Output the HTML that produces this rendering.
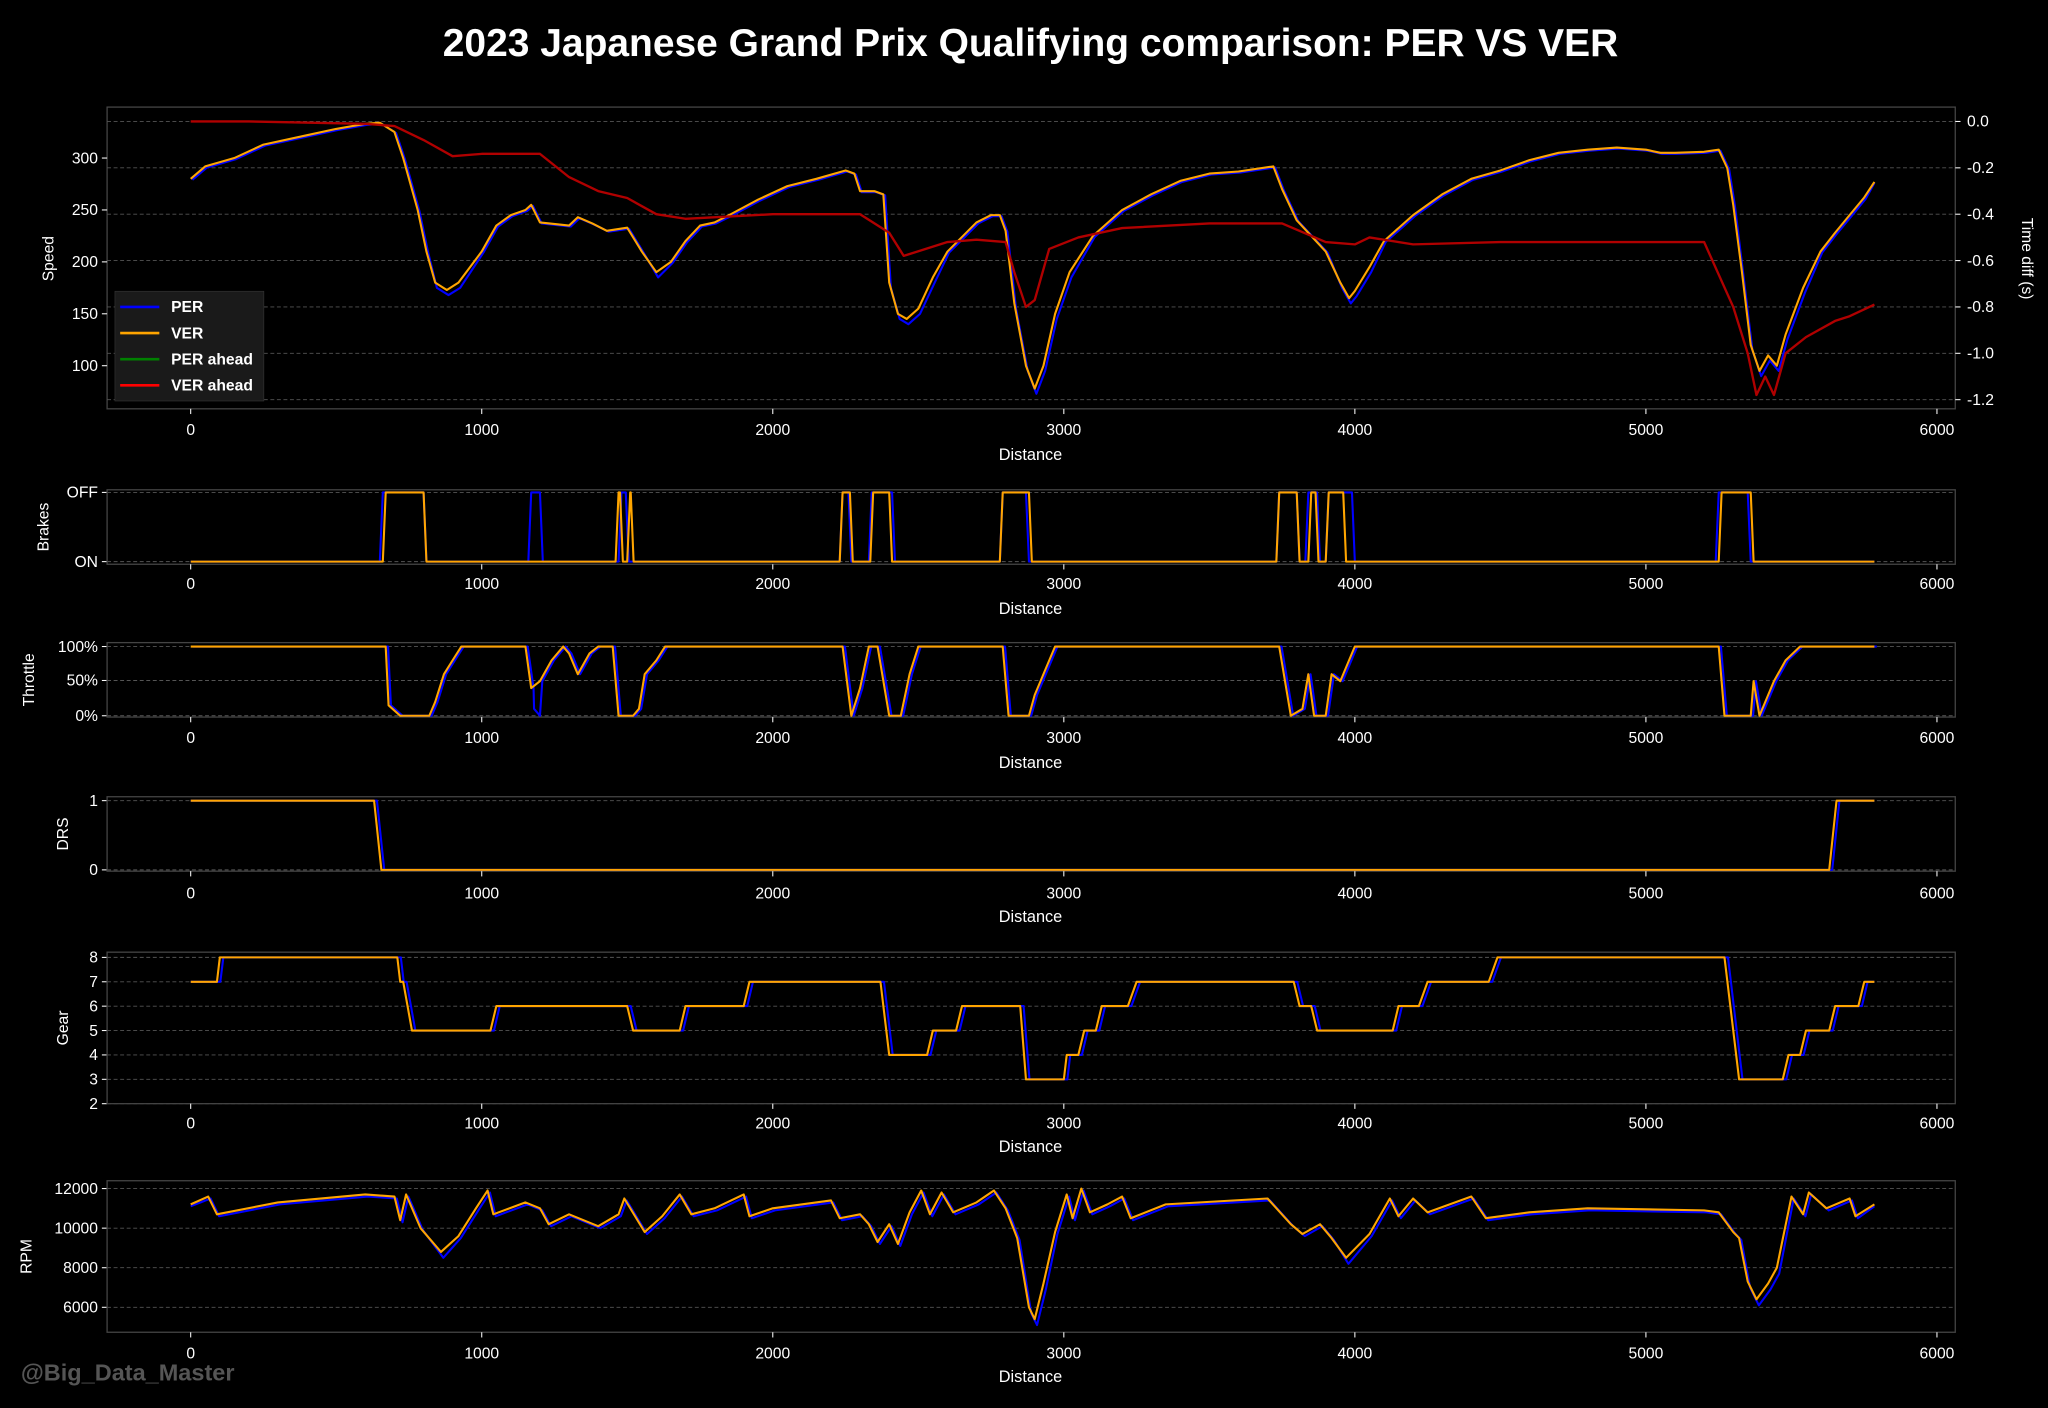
<!DOCTYPE html><html><head><meta charset="utf-8"><style>
html,body{margin:0;padding:0;background:#000;}
svg{display:block}
text{font-family:"Liberation Sans",sans-serif;fill:#fff}
</style></head><body>
<svg id="s" width="2048" height="1408" viewBox="0 0 1568 1078" xmlns="http://www.w3.org/2000/svg">
<rect width="1568" height="1078" fill="#000"/>
<text x="789" y="43" font-size="29.5" text-anchor="middle" font-weight="bold" textLength="900" lengthAdjust="spacingAndGlyphs">2023 Japanese Grand Prix Qualifying comparison: PER VS VER</text>
<text x="16" y="1057" font-size="18" font-weight="bold" style="fill:#555">@Big_Data_Master</text>
</svg>
<script>
const S=document.getElementById('s');const NS='http://www.w3.org/2000/svg';
function el(t,a,txt){const e=document.createElementNS(NS,t);for(const k in a)e.setAttribute(k,a[k]);if(txt!==undefined)e.textContent=txt;S.appendChild(e);return e;}
const X=d=>146+d*0.22283;
function panel(y0,y1,ticks,fy,label,tickY,distY){
 ticks.forEach(t=>{el('line',{x1:82,x2:1497,y1:t[1],y2:t[1],stroke:'#555','stroke-dasharray':'3,2','stroke-width':0.7});
  el('line',{x1:78,x2:82,y1:t[1],y2:t[1],stroke:'#fff','stroke-width':0.8});
  el('text',{x:75,y:t[1]+4,'font-size':12,'text-anchor':'end'},t[0]);});
 el('rect',{x:82,y:y0,width:1415,height:y1-y0,fill:'none',stroke:'#444','stroke-width':1});
 for(let d=0;d<=6000;d+=1000){el('line',{x1:X(d),x2:X(d),y1:y1,y2:y1+4,stroke:'#fff','stroke-width':0.8});
  el('text',{x:X(d),y:tickY,'font-size':12,'text-anchor':'middle'},d);}
 el('text',{x:789,y:distY,'font-size':12.5,'text-anchor':'middle'},'Distance');
 const cy=(y0+y1)/2;el('text',{x:fy,y:cy,'font-size':12,'text-anchor':'middle',transform:`rotate(-90 ${fy} ${cy})`},label);
}
function line(pts,fx,fy,col,w){el('polyline',{points:pts.map(p=>X(p[0]).toFixed(1)+','+fy(p[1]).toFixed(1)).join(' '),fill:'none',stroke:col,'stroke-width':w||1.6,'stroke-linejoin':'round'});}
const sp=[[0,280],[50,292],[150,300],[250,313],[400,322],[500,328],[600,333],[650,334],[700,325],[730,300],[780,250],[810,210],[840,180],[880,173],[920,180],[1000,210],[1050,235],[1100,245],[1150,250],[1170,255],[1200,238],[1300,235],[1330,243],[1380,237],[1430,230],[1500,233],[1550,210],[1600,190],[1650,200],[1700,220],[1750,235],[1800,238],[1850,245],[1950,260],[2050,273],[2150,280],[2250,288],[2280,285],[2300,268],[2350,268],[2380,265],[2400,180],[2430,150],[2460,145],[2500,155],[2550,185],[2600,210],[2700,238],[2750,245],[2780,245],[2800,230],[2830,160],[2870,100],[2900,78],[2930,100],[2970,150],[3020,190],[3100,225],[3200,250],[3300,265],[3400,278],[3500,285],[3600,287],[3720,292],[3750,270],[3800,240],[3850,225],[3900,210],[3950,180],[3980,165],[4000,172],[4050,195],[4100,220],[4200,245],[4300,265],[4400,280],[4500,288],[4600,298],[4700,305],[4800,308],[4900,310],[5000,308],[5050,305],[5100,305],[5200,306],[5250,308],[5280,290],[5300,255],[5330,190],[5360,120],[5390,95],[5420,110],[5450,100],[5480,130],[5540,175],[5600,210],[5650,228],[5700,245],[5750,262],[5785,277]];
const td=[[0,0],[200,0],[600,-0.01],[700,-0.02],[800,-0.08],[900,-0.15],[1000,-0.14],[1200,-0.14],[1300,-0.24],[1400,-0.3],[1500,-0.33],[1600,-0.4],[1700,-0.42],[2000,-0.4],[2300,-0.4],[2400,-0.48],[2450,-0.58],[2500,-0.56],[2600,-0.52],[2700,-0.51],[2800,-0.52],[2830,-0.65],[2870,-0.8],[2900,-0.77],[2950,-0.55],[3050,-0.5],[3200,-0.46],[3500,-0.44],[3750,-0.44],[3900,-0.52],[4000,-0.53],[4050,-0.5],[4200,-0.53],[4500,-0.52],[5200,-0.52],[5300,-0.8],[5350,-1.0],[5380,-1.18],[5410,-1.1],[5440,-1.18],[5480,-1.0],[5550,-0.93],[5650,-0.86],[5700,-0.84],[5785,-0.79]];
const yS=v=>121+(300-v)*0.795, yT=v=>93-v/0.2*35.5;
el('rect',{x:82,y:82,width:1415,height:231,fill:'none',stroke:'#444'});
[0,-0.2,-0.4,-0.6,-0.8,-1.0,-1.2].forEach(v=>{const y=yT(v);el('line',{x1:82,x2:1497,y1:y,y2:y,stroke:'#555','stroke-dasharray':'3,2','stroke-width':0.7});
 el('line',{x1:1497,x2:1501,y1:y,y2:y,stroke:'#fff','stroke-width':0.8});el('text',{x:1506,y:y+4,'font-size':12},v.toFixed(1));});
[100,150,200,250,300].forEach(v=>{const y=yS(v);el('line',{x1:78,x2:82,y1:y,y2:y,stroke:'#fff','stroke-width':0.8});el('text',{x:75,y:y+4,'font-size':12,'text-anchor':'end'},v);});
for(let d=0;d<=6000;d+=1000){el('line',{x1:X(d),x2:X(d),y1:313,y2:317,stroke:'#fff','stroke-width':0.8});el('text',{x:X(d),y:333,'font-size':12,'text-anchor':'middle'},d);}
el('text',{x:789,y:352,'font-size':12.5,'text-anchor':'middle'},'Distance');
el('text',{x:41,y:198,'font-size':12,'text-anchor':'middle',transform:'rotate(-90 41 198)'},'Speed');
el('text',{x:1548,y:198,'font-size':12,'text-anchor':'middle',transform:'rotate(90 1548 198)'},'Time diff (s)');
const spP=sp.map(p=>[p[0]+6,p[1]<200?p[1]-5:p[1]-1]);spP[spP.length-1][0]=5785;
line(spP,0,yS,'#0000ff');line(sp,0,yS,'#ffa500');line(td,0,yT,'#b00000',1.8);
el('rect',{x:88,y:223,width:114,height:84,fill:'#1a1a1a',stroke:'#333','stroke-width':0.5});
[['PER','#0000ff'],['VER','#ffa500'],['PER ahead','#008000'],['VER ahead','#ff0000']].forEach((l,i)=>{const y=235+i*20;
 el('line',{x1:92,x2:122,y1:y,y2:y,stroke:l[1],'stroke-width':2});el('text',{x:131,y:y+4,'font-size':12,'font-weight':'bold'},l[0]);});
panel(375,432,[['OFF',377],['ON',430]],37,'Brakes',451,470);
const yB=v=>430-v*53;
function sq(segs,end,base){const r=[[0,base]];segs.forEach(s=>{r.push([s[0]-10,base]);r.push([s[0],s[2]]);r.push([s[1],s[2]]);r.push([s[1]+10,base]);});r.push([end,base]);return r;}
const brV=sq([[670,800,1],[1470,1475,1],[1510,1512,1],[2240,2265,1],[2345,2400,1],[2790,2880,1],[3740,3800,1],[3850,3865,1],[3910,3960,1],[5260,5360,1]],5785,0);
const brP=sq([[660,800,1],[1170,1200,1],[1480,1495,1],[2240,2260,1],[2340,2410,1],[2790,2870,1],[3740,3800,1],[3840,3870,1],[3910,3990,1],[5250,5350,1]],5785,0);
line(brP,0,yB,'#0000ff');line(brV,0,yB,'#ffa500');
panel(492,549,[['100%',495],['50%',521],['0%',548]],26,'Throttle',569,588);
const yTh=v=>548-v*0.53;
const th=[[0,100],[670,100],[680,15],[720,0],[820,0],[840,20],[870,60],[900,80],[930,100],[1150,100],[1170,40],[1200,50],[1240,80],[1280,100],[1300,90],[1330,60],[1370,90],[1400,100],[1450,100],[1470,0],[1520,0],[1540,10],[1560,60],[1600,80],[1630,100],[2240,100],[2270,0],[2300,40],[2330,100],[2360,100],[2400,0],[2440,0],[2470,60],[2500,100],[2790,100],[2810,0],[2880,0],[2900,30],[2970,100],[3740,100],[3780,0],[3820,10],[3840,60],[3860,0],[3900,0],[3920,60],[3950,50],[4000,100],[5250,100],[5270,0],[5360,0],[5370,50],[5390,0],[5440,50],[5480,80],[5530,100],[5785,100]];
const thP=th.map(p=>[p[0]+8,p[1]]);thP.push([5785,100]);
thP.splice(12,0,[1180,10],[1200,0]);
line(thP.sort((a,b)=>a[0]-b[0]),0,yTh,'#0000ff');line(th,0,yTh,'#ffa500');
panel(610,667,[['1',613],['0',666]],52,'DRS',688,706);
const yD=v=>666-v*53;
line([[0,1],[640,1],[665,0],[5640,0],[5665,1],[5785,1]],0,yD,'#0000ff');
line([[0,1],[630,1],[655,0],[5630,0],[5655,1],[5785,1]],0,yD,'#ffa500');
panel(729,845,[8,7,6,5,4,3,2].map(g=>[g,733+(8-g)*18.67]),52,'Gear',864,882);
const yG=v=>733+(8-v)*18.67;
const gs=[[0,90,7],[100,710,8],[720,730,7],[760,1030,5],[1050,1500,6],[1520,1680,5],[1700,1900,6],[1920,2370,7],[2400,2530,4],[2550,2630,5],[2650,2850,6],[2870,3000,3],[3010,3050,4],[3070,3110,5],[3130,3220,6],[3250,3790,7],[3810,3850,6],[3870,4130,5],[4150,4220,6],[4250,4460,7],[4490,5270,8],[5320,5470,3],[5490,5530,4],[5550,5630,5],[5650,5730,6],[5750,5785,7]];
const gV=[];gs.forEach(s=>{gV.push([s[0],s[2]]);gV.push([s[1],s[2]]);});
const gP=gV.map(p=>[Math.min(5785,p[0]+12),p[1]]);gP.unshift([0,7]);
line(gP,0,yG,'#0000ff');line(gV,0,yG,'#ffa500');
panel(904,1020,[['12000',910],['10000',940.3],['8000',970.6],['6000',1000.9]],24,'RPM',1040,1058);
const yR=v=>910+(12000-v)*0.01515;
const rp=[[0,11200],[60,11600],[90,10700],[300,11300],[600,11700],[700,11600],[720,10400],[740,11700],[790,10000],[860,8800],[920,9600],[980,11000],[1020,11900],[1040,10700],[1150,11300],[1200,11000],[1230,10200],[1300,10700],[1400,10100],[1470,10700],[1490,11500],[1560,9800],[1620,10600],[1680,11700],[1720,10700],[1800,11000],[1900,11700],[1920,10600],[2000,11000],[2200,11400],[2230,10500],[2300,10700],[2330,10200],[2360,9300],[2400,10200],[2430,9200],[2470,10800],[2510,11900],[2540,10700],[2580,11800],[2620,10800],[2700,11300],[2760,11900],[2800,11000],[2840,9500],[2880,6000],[2900,5400],[2930,7200],[2970,9800],[3010,11700],[3030,10500],[3060,12000],[3090,10800],[3150,11200],[3200,11600],[3230,10500],[3350,11200],[3700,11500],[3780,10200],[3820,9700],[3880,10200],[3920,9500],[3970,8500],[4050,9700],[4120,11500],[4150,10600],[4200,11500],[4250,10800],[4400,11600],[4450,10500],[4600,10800],[4800,11000],[5200,10900],[5250,10800],[5300,9800],[5320,9500],[5350,7300],[5380,6400],[5420,7200],[5450,8000],[5500,11600],[5540,10700],[5560,11800],[5620,11000],[5700,11500],[5720,10600],[5785,11200]];
const rpP=rp.map(p=>[Math.min(5785,p[0]+8),p[1]<9000?p[1]-300:p[1]-100]);rpP[0][0]=0;
line(rpP,0,yR,'#0000ff');line(rp,0,yR,'#ffa500');
</script>
</body></html>
